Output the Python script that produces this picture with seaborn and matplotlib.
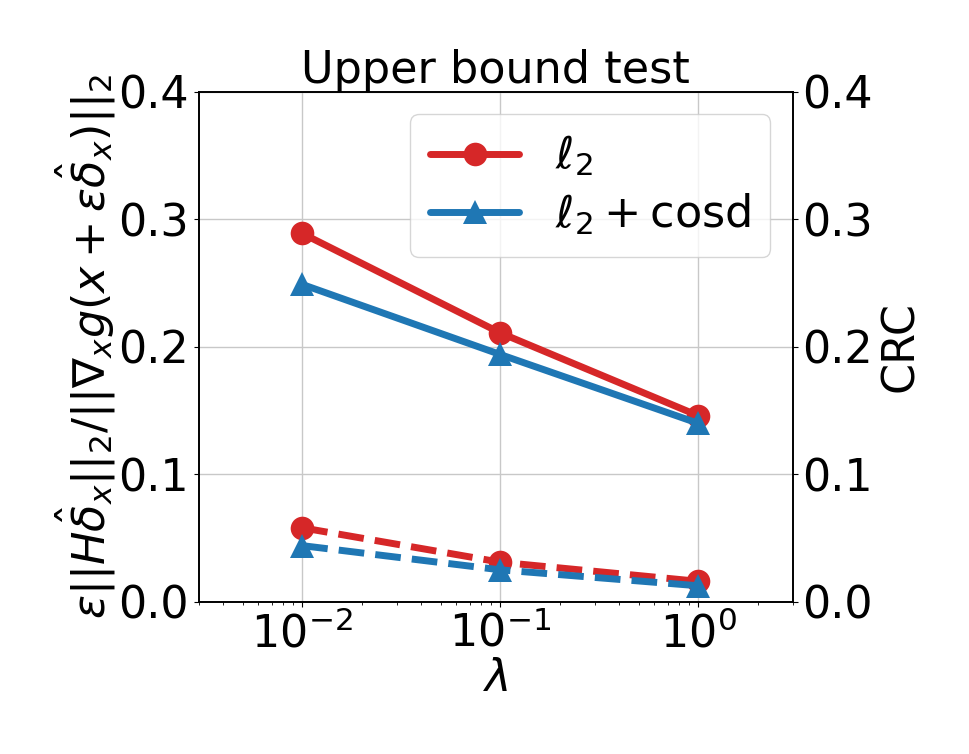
import matplotlib
matplotlib.use("Agg")
import matplotlib.pyplot as plt
import pandas as pd
import seaborn as sns

sns.set_style("ticks")
plt.rcParams["font.family"] = ["DejaVu Sans"]
plt.rcParams["mathtext.fontset"] = "dejavusans"
plt.rcParams["text.color"] = "black"
plt.rcParams["axes.labelcolor"] = "black"
plt.rcParams["xtick.color"] = "black"
plt.rcParams["ytick.color"] = "black"
plt.rcParams["axes.edgecolor"] = "black"

lambdas = [0.01, 0.1, 1.0]
ratio_l2 = [0.289, 0.211, 0.146]
ratio_cosd = [0.249, 0.194, 0.140]
crc_l2 = [0.058, 0.031, 0.016]
crc_cosd = [0.044, 0.025, 0.0125]

RED = "#d62728"
BLUE = "#1f77b4"
FS = 32

ratio_df = pd.DataFrame({"lam": lambdas * 2,
                         "val": ratio_l2 + ratio_cosd,
                         "method": ["l2"] * 3 + ["cosd"] * 3})
crc_df = pd.DataFrame({"lam": lambdas * 2,
                       "val": crc_l2 + crc_cosd,
                       "method": ["l2"] * 3 + ["cosd"] * 3})

fig, ax = plt.subplots(figsize=(9.69, 7.54), dpi=100)
fig.subplots_adjust(left=0.205, right=0.818, top=0.878, bottom=0.202)
ax2 = ax.twinx()

styles = {"l2": (RED, "o", r"$\ell_2$"), "cosd": (BLUE, "^", r"$\ell_2+\mathrm{cosd}$")}
for m, (c, mk, lab) in styles.items():
    d = ratio_df[ratio_df["method"] == m]
    sns.lineplot(data=d, x="lam", y="val", ax=ax, color=c, marker=mk,
                 markersize=17, linewidth=5, markeredgewidth=0, label=lab)
    d2 = crc_df[crc_df["method"] == m]
    sns.lineplot(data=d2, x="lam", y="val", ax=ax2, color=c, marker=mk,
                 markersize=17, linewidth=5, markeredgewidth=0, linestyle="--",
                 legend=False)

ax.set_xscale("log")
ax.set_xlim(0.003, 3)
ax.set_ylim(0, 0.4)
ax2.set_ylim(0, 0.4)
ax.set_yticks([0.0, 0.1, 0.2, 0.3, 0.4])
ax2.set_yticks([0.0, 0.1, 0.2, 0.3, 0.4])
ax.grid(True, which="major", color="#c8c8c8", linewidth=1)

ax.tick_params(labelsize=FS)
ax2.tick_params(labelsize=FS)
ax.set_xlabel(r"$\lambda$", fontsize=FS, labelpad=1)
ax.set_ylabel(r"$\varepsilon||H\hat{\delta}_x||_2/||\nabla_x g(x+\varepsilon\hat{\delta}_x)||_2$",
              fontsize=FS, labelpad=0)
ax2.set_ylabel("CRC", fontsize=FS, labelpad=4)
ax.set_title("Upper bound test", fontsize=FS, pad=4)

for a in (ax, ax2):
    for s in a.spines.values():
        s.set_visible(True)
        s.set_linewidth(1.2)

ax.legend(loc="upper right", fontsize=FS, handlelength=2.0, borderpad=0.45,
          labelspacing=0.3, framealpha=0.8)

fig.savefig("out.png", dpi=100)
